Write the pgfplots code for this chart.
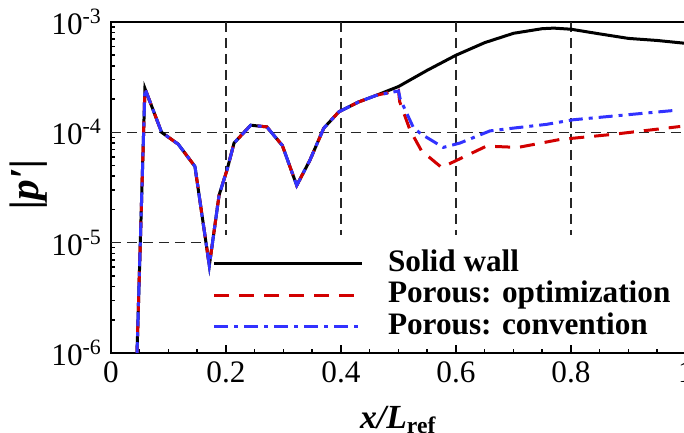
\documentclass[border=0pt]{standalone}
\usepackage{fontspec}
\setmainfont{Liberation Serif}
\usepackage{pgfplots}
\pgfplotsset{compat=1.18}

\definecolor{optred}{RGB}{210,0,0}
\definecolor{convblue}{RGB}{50,50,255}

\begin{document}
\begin{tikzpicture}
\begin{axis}[
  name=ax,
  scale only axis, width=230pt, height=132.4pt,
  xmin=0, xmax=1, ymin=1e-6, ymax=1e-3, ymode=log,
  axis line style={line width=0.9pt},
  tick pos=left, tick align=inside,
  major tick length=3.2pt, minor tick length=1.7pt,
  every tick/.style={black, line width=0.6pt},
  xtick={0,0.2,0.4,0.6,0.8,1}, xticklabels={0,0.2,0.4,0.6,0.8,1},
  minor x tick num=3,
  ytick={1e-6,1e-5,1e-4,1e-3},
  yticklabels={10\textsuperscript{-6},10\textsuperscript{-5},10\textsuperscript{-4},10\textsuperscript{-3}},
  /pgf/number format/assume math mode=true,
  tick label style={font=\fontsize{12.5}{14}\selectfont},
  xlabel={\textbf{\textit{x/L}}\textsubscript{\textbf{ref}}},
  ylabel={\textbf{\textit{|p′|}}},
  xlabel style={at={(axis description cs:0.5,0)}, anchor=base, yshift=-30.2pt, font=\fontsize{13.5}{15}\selectfont},
  ylabel style={at={(axis description cs:-0.1426,0.51)}, anchor=center, font=\fontsize{16.5}{18}\selectfont},
  legend cell align=left,
  legend image code/.code={\draw[#1] (0pt,0pt) -- (59pt,0pt);},
  legend style={at={(rel axis cs:0.1757,0.316)}, anchor=north west, draw=none, fill=none,
    inner sep=0pt, row sep=0.6pt, column sep=10pt,
    font=\fontsize{12.5}{14}\selectfont\bfseries,
    nodes={inner sep=0pt, text height=9pt, text depth=3pt}},
]
% partial dashed grid, as in the original
\draw[black!85, line width=0.5pt, dash pattern=on 4pt off 2.4pt]
  (axis cs:0.2,1e-3) -- (axis cs:0.2,1.18e-5)
  (axis cs:0.4,1e-3) -- (axis cs:0.4,1.18e-5)
  (axis cs:0.6,1e-3) -- (axis cs:0.6,1.18e-5)
  (axis cs:0.8,1e-3) -- (axis cs:0.8,1.18e-5)
  (axis cs:0,1e-4) -- (axis cs:1,1e-4)
  (axis cs:0,1e-5) -- (axis cs:0.16,1e-5);

\addplot[black, line width=1.2pt] coordinates {
(0.0435,5e-7)(0.059,2.5e-4)(0.088,1.0e-4)(0.117,7.8e-5)(0.146,4.9e-5)(0.171,6.2e-6)
(0.188,2.7e-5)(0.202,4.6e-5)(0.214,8.0e-5)(0.243,1.16e-4)(0.271,1.12e-4)(0.298,7.6e-5)
(0.323,3.3e-5)(0.346,5.6e-5)(0.370,1.09e-4)(0.396,1.53e-4)(0.430,1.88e-4)(0.462,2.17e-4)
(0.50,2.6e-4)(0.55,3.65e-4)(0.60,5.0e-4)(0.65,6.5e-4)(0.70,7.9e-4)(0.75,8.7e-4)
(0.77,8.8e-4)(0.80,8.6e-4)(0.85,7.8e-4)(0.90,7.1e-4)(0.95,6.8e-4)(1.0,6.4e-4)
};
\addplot[optred, line width=1.2pt, dash pattern=on 6pt off 4pt] coordinates {
(0.0435,5e-7)(0.059,2.5e-4)(0.088,1.0e-4)(0.117,7.8e-5)(0.146,4.9e-5)(0.171,6.2e-6)
(0.188,2.7e-5)(0.202,4.6e-5)(0.214,8.0e-5)(0.243,1.16e-4)(0.271,1.12e-4)(0.298,7.6e-5)
(0.323,3.3e-5)(0.346,5.6e-5)(0.370,1.09e-4)(0.396,1.53e-4)(0.430,1.88e-4)(0.462,2.17e-4)
(0.50,2.4e-4)(0.502,1.9e-4)(0.52,1.05e-4)(0.54,6.8e-5)(0.575,4.8e-5)(0.653,7.5e-5)
(0.708,7.3e-5)(0.78,8.6e-5)(0.874,9.6e-5)(0.99,1.13e-4)
};
\addplot[convblue, line width=1.2pt, dash pattern=on 5.6pt off 2.4pt on 1.6pt off 2.4pt] coordinates {
(0.0435,5e-7)(0.059,2.5e-4)(0.088,1.0e-4)(0.117,7.8e-5)(0.146,4.9e-5)(0.171,6.2e-6)
(0.188,2.7e-5)(0.202,4.6e-5)(0.214,8.0e-5)(0.243,1.16e-4)(0.271,1.12e-4)(0.298,7.6e-5)
(0.323,3.3e-5)(0.346,5.6e-5)(0.370,1.09e-4)(0.396,1.53e-4)(0.430,1.88e-4)(0.462,2.17e-4)
(0.50,2.37e-4)(0.503,2.0e-4)(0.526,1.1e-4)(0.54,9.6e-5)(0.578,7.3e-5)(0.607,8.0e-5)
(0.659,1.03e-4)(0.705,1.1e-4)(0.757,1.18e-4)(0.804,1.3e-4)(0.98,1.58e-4)
};
\legend{Solid wall, Porous: optimization, Porous: convention}
\end{axis}
\pgfresetboundingbox
\path ([shift={(-44.4pt,-32pt)}]ax.south west) rectangle ([shift={(229.2pt,141.2pt)}]ax.south west);
\end{tikzpicture}
\end{document}
